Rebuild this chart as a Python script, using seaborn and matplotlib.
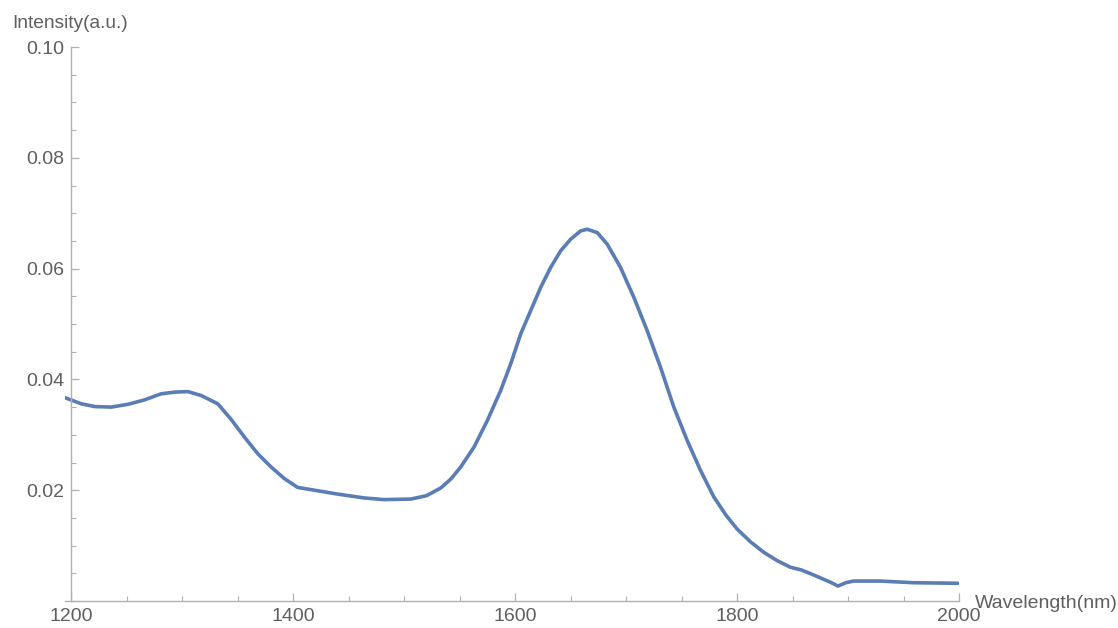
import matplotlib
matplotlib.use('Agg')
import matplotlib.pyplot as plt
import seaborn as sns
from matplotlib.ticker import MultipleLocator, FixedLocator

# spectrum
wavelength = [1193, 1209, 1221, 1236, 1251, 1266, 1281, 1293, 1305, 1317, 1332,
              1344, 1356, 1368, 1380, 1392, 1404, 1422, 1440, 1464, 1482, 1506,
              1520, 1533, 1542, 1551, 1563, 1575, 1587, 1596, 1605, 1614, 1623,
              1632, 1641, 1650, 1659, 1665, 1674, 1683, 1695, 1707, 1719, 1731,
              1743, 1755, 1767, 1779, 1790, 1800, 1812, 1824, 1836, 1848, 1858,
              1869, 1884, 1891, 1898, 1905, 1929, 1959, 1999]
intensity = [0.0368, 0.0356, 0.0351, 0.0350, 0.0355, 0.0363, 0.0374, 0.0377, 0.0378,
             0.0371, 0.0356, 0.0328, 0.0296, 0.0266, 0.0242, 0.0221, 0.0205, 0.0199,
             0.0193, 0.0186, 0.0183, 0.0184, 0.0190, 0.0204, 0.0220, 0.0242, 0.0278,
             0.0326, 0.0380, 0.0428, 0.0482, 0.0524, 0.0566, 0.0602, 0.0632, 0.0653,
             0.0668, 0.0671, 0.0665, 0.0644, 0.0602, 0.0548, 0.0488, 0.0422, 0.0350,
             0.0290, 0.0236, 0.0188, 0.0155, 0.0130, 0.0107, 0.0088, 0.0073, 0.0061,
             0.0056, 0.0047, 0.0034, 0.0027, 0.0033, 0.0036, 0.0036, 0.0033, 0.0032]

x_major = [1200, 1400, 1600, 1800, 2000]
y_major = [0.02, 0.04, 0.06, 0.08, 0.10]
y_labels = ['0.02', '0.04', '0.06', '0.08', '0.10']

sns.set_style('ticks')
plt.rcParams['font.family'] = ['Liberation Sans', 'DejaVu Sans']

text_color = '#5f5f5f'
axis_color = '#b0b0b0'
line_color = '#5a7db6'

fig = plt.figure(figsize=(11.18, 6.28), dpi=100)
ax = fig.add_axes([64.6 / 1118, 27 / 628, 894.4 / 1118, 554 / 628])

sns.lineplot(x=wavelength, y=intensity, ax=ax, color=line_color, linewidth=2.6)

ax.set_xlim(1194, 2000)
ax.set_ylim(0, 0.10)

for s in ['top', 'right']:
    ax.spines[s].set_visible(False)
ax.spines['left'].set_position(('data', 1200))
for s in ['left', 'bottom']:
    ax.spines[s].set_color(axis_color)
    ax.spines[s].set_linewidth(1.0)

ax.xaxis.set_major_locator(FixedLocator(x_major))
ax.xaxis.set_minor_locator(MultipleLocator(50))
ax.yaxis.set_major_locator(FixedLocator(y_major))
ax.set_yticklabels(y_labels)
ax.yaxis.set_minor_locator(MultipleLocator(0.005))

ax.tick_params(which='major', direction='in', length=6, width=0.9, color=axis_color,
               labelcolor=text_color, labelsize=14)
ax.tick_params(which='minor', direction='in', length=3.5, width=0.8, color=axis_color)
ax.tick_params(axis='x', which='major', pad=5)
ax.tick_params(axis='y', which='major', pad=5)

ax.set_xlabel('')
ax.set_ylabel('')
fig.text(12 / 1118, 1 - 24 / 628, 'Intensity(a.u.)', color=text_color, fontsize=13.8,
         ha='left', va='center')
fig.text(975 / 1118, 1 - 604 / 628, 'Wavelength(nm)', color=text_color, fontsize=14,
         ha='left', va='center')

fig.savefig('out.png', dpi=100, facecolor='white')
